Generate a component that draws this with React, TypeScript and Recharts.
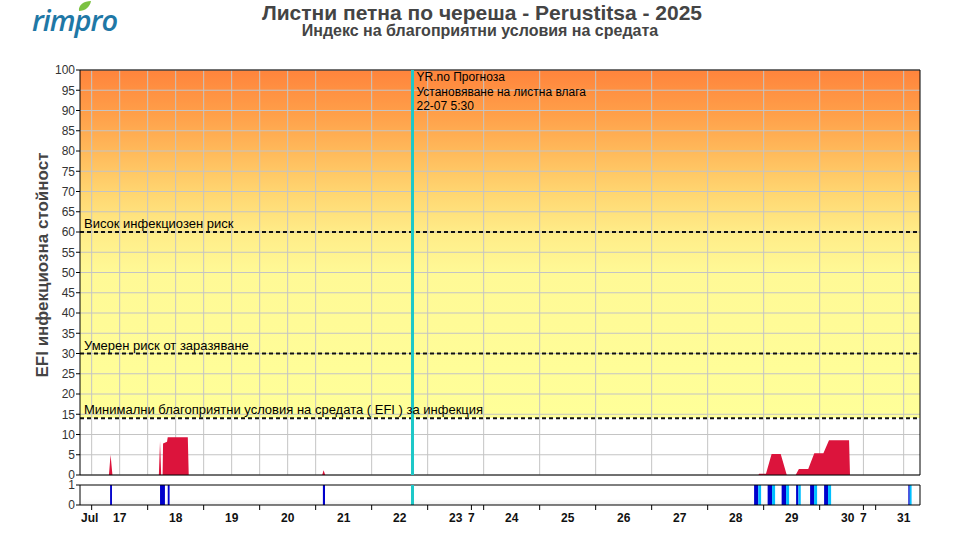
import React from 'react';
import {
  ComposedChart,
  Area,
  XAxis,
  YAxis,
  CartesianGrid,
  ReferenceLine,
} from 'recharts';

// time axis is in hours counted from 16 Jul 00:00
const X_DOMAIN: [number, number] = [7, 367];
const FORECAST_HOUR = 149.5; // 22-07 5:30

// EFI curve (hour, value)
const efiHours = [
  7, 19.4, 20.1, 20.9,
  40.8, 41.3, 41.8, 42.4, 42.6, 44.3, 44.6, 53.2, 53.6,
  110.8, 111.4, 112.1,
  297.8, 298.0, 301.0, 303.4, 307.3, 309.9,
  313.7, 315.1, 319.1, 321.7, 325.6, 328.0, 336.6, 337.0,
  367,
];
const efiValues = [
  0, 0, 5, 0,
  0, 8.4, 0, 0, 7.8, 8.2, 9.3, 9.3, 0,
  0, 1.2, 0,
  0, 0.3, 0.3, 5.2, 5.2, 0,
  0, 1.5, 1.5, 5.4, 5.4, 8.6, 8.6, 0,
  0,
];

// leaf wetness periods [start, end] in hours
const wetMeasured: [number, number][] = [
  [19.9, 20.7], [41.3, 43.4], [44.6, 45.4], [111.1, 112.0],
  [295.9, 297.7], [301.7, 303.6], [307.7, 309.6], [313.9, 314.9],
  [319.9, 321.6], [325.9, 327.6], [362.0, 362.6],
];
const wetForecast: [number, number][] = [
  [297.7, 298.9], [303.6, 304.9], [309.6, 310.9], [314.9, 315.9],
  [321.6, 322.9], [327.6, 328.9], [362.6, 363.4],
];

const yTicks = [0, 5, 10, 15, 20, 25, 30, 35, 40, 45, 50, 55, 60, 65, 70, 75, 80, 85, 90, 95, 100];

// risk thresholds
const thresholds = [
  { value: 60, label: 'Висок инфекциозен риск' },
  { value: 30, label: 'Умерен риск от заразяване' },
  { value: 14, label: 'Минимални благоприятни условия на средата ( EFI ) за инфекция' },
];

const dayHours = [24, 48, 72, 96, 120, 144, 168, 192, 216, 240, 264, 288, 312, 336, 360];
const dayLabels = ['17', '18', '19', '20', '21', '22', '23', '24', '25', '26', '27', '28', '29', '30', '31'];
const noonHours = [12, 36, 60, 84, 108, 132, 156, 180, 204, 228, 252, 276, 300, 324, 348];
const weekHours = [174.75, 342.75];
const weekLabels = ['7', '7'];

const FONT = '"Liberation Sans", Arial, sans-serif';

const efiData = efiHours.map((t, i) => ({ t, efi: efiValues[i] }));

const inside = (list: [number, number][], t: number) =>
  list.some(([a, b]) => t >= a && t < b) ? 1 : 0;

const wetData = Array.from(
  new Set([X_DOMAIN[0], X_DOMAIN[1], ...wetMeasured.flat(), ...wetForecast.flat()])
)
  .sort((a, b) => a - b)
  .map((t) => ({ t, measured: inside(wetMeasured, t), forecast: inside(wetForecast, t) }));

const gridX = [...dayHours, ...noonHours, ...weekHours].sort((a, b) => a - b);
const axisTicks = [X_DOMAIN[0], ...gridX];

const ForecastLabel = (props: any) => {
  const { x, y } = props.viewBox;
  return (
    <text x={x + 4} y={y + 11} fontSize={12} fontFamily={FONT} fill="#000">
      <tspan x={x + 4} dy={0}>YR.no Прогноза</tspan>
      <tspan x={x + 4} dy={14.5}>Установяване на листна влага</tspan>
      <tspan x={x + 4} dy={14.5}>22-07 5:30</tspan>
    </text>
  );
};

const YTitle = () => (
  <text
    x={48}
    y={265}
    transform="rotate(-90, 48, 265)"
    textAnchor="middle"
    fontSize={17}
    fontWeight="bold"
    fill="#444"
    fontFamily={FONT}
  >
    EFI инфекциозна стойност
  </text>
);

const TimeTick = (props: any) => {
  const { x, y, payload } = props;
  const v = payload.value;
  if (v === X_DOMAIN[0]) {
    return (
      <text x={x + 1} y={y + 17} fontSize={12} fontWeight="bold" fontFamily={FONT} fill="#111">
        Jul
      </text>
    );
  }
  const dayIdx = dayHours.indexOf(v);
  if (dayIdx >= 0) {
    return (
      <text x={x} y={y + 17} textAnchor="middle" fontSize={12} fontWeight="bold" fontFamily={FONT} fill="#111">
        {dayLabels[dayIdx]}
      </text>
    );
  }
  const weekIdx = weekHours.indexOf(v);
  return (
    <g>
      <line x1={x} x2={x} y1={y} y2={y + 5} stroke="#000" />
      {weekIdx >= 0 && (
        <text x={x} y={y + 17} textAnchor="middle" fontSize={12} fontWeight="bold" fontFamily={FONT} fill="#111">
          {weekLabels[weekIdx]}
        </text>
      )}
    </g>
  );
};

function Logo() {
  return (
    <div style={{ position: 'absolute', left: 32, top: 0, width: 100, height: 40 }}>
      <svg width={100} height={40} style={{ position: 'absolute', left: 0, top: 0 }}>
        <path d="M47 11 C 46 5, 52 1, 59 1 C 58 7, 53 11, 47 11 Z" fill="#7cc242" />
      </svg>
      <div
        style={{
          position: 'absolute',
          left: 0,
          top: 4,
          fontFamily: '"Open Sans", sans-serif',
          fontWeight: 600,
          fontStyle: 'italic',
          fontSize: 29,
          letterSpacing: -1,
          color: '#1f78a6',
          lineHeight: '32px',
        }}
      >
        rimpro
      </div>
    </div>
  );
}

export default function App() {
  return (
    <div style={{ position: 'absolute', left: 0, top: 0, width: 960, height: 535, background: '#fff', fontFamily: FONT }}>
      <Logo />
      <div
        style={{
          position: 'absolute',
          left: 0,
          width: 964,
          top: 3,
          textAlign: 'center',
          fontWeight: 'bold',
          color: '#444',
          fontSize: 21,
          lineHeight: '20px',
        }}
      >
        Листни петна по череша - Perustitsa - 2025
      </div>
      <div
        style={{
          position: 'absolute',
          left: 0,
          width: 960,
          top: 23,
          textAlign: 'center',
          fontWeight: 'bold',
          color: '#444',
          fontSize: 16,
          lineHeight: '16px',
        }}
      >
        Индекс на благоприятни условия на средата
      </div>

      {/* EFI chart */}
      <div style={{ position: 'absolute', left: 0, top: 0 }}>
        <ComposedChart width={960} height={490} data={efiData} margin={{ top: 70, right: 40, bottom: 15, left: 0 }}>
          <defs>
            <linearGradient id="efiBg" x1="0" y1="0" x2="0" y2="1">
              <stop offset="0" stopColor="#ff843c" />
              <stop offset="0.1" stopColor="#ff9d48" />
              <stop offset="0.2" stopColor="#ffb95a" />
              <stop offset="0.3" stopColor="#ffd570" />
              <stop offset="0.4" stopColor="#ffec88" />
              <stop offset="0.5" stopColor="#fff996" />
              <stop offset="0.86" stopColor="#ffff99" />
              <stop offset="0.86" stopColor="#ffffff" />
              <stop offset="1" stopColor="#ffffff" />
            </linearGradient>
          </defs>
          <CartesianGrid
            stroke="#c4c4c4"
            fill="url(#efiBg)"
            fillOpacity={1}
            verticalValues={gridX}
            horizontalValues={yTicks}
          />
          <XAxis dataKey="t" type="number" domain={X_DOMAIN} allowDataOverflow ticks={gridX} hide />
          <YAxis
            type="number"
            domain={[0, 100]}
            ticks={yTicks}
            interval={0}
            width={80}
            tickSize={4}
            tickMargin={1}
            tick={{ fontSize: 12, fill: '#333', fontFamily: FONT }}
            axisLine={{ stroke: '#000' }}
            tickLine={{ stroke: '#000' }}
            label={<YTitle />}
          />
          <Area
            type="linear"
            dataKey="efi"
            stroke="none"
            fill="#dc143c"
            fillOpacity={1}
            isAnimationActive={false}
          />
          {thresholds.map((th) => (
            <ReferenceLine
              key={th.value}
              y={th.value}
              stroke="#111"
              strokeWidth={2}
              strokeDasharray="4 3"
              label={{
                value: th.label,
                position: 'insideBottomLeft',
                offset: 4,
                style: { fontSize: 13, fill: '#000', fontFamily: FONT },
              }}
            />
          ))}
          <ReferenceLine y={0} stroke="#000" />
          <ReferenceLine y={100} stroke="#000" />
          <ReferenceLine x={X_DOMAIN[1]} stroke="#000" />
          <ReferenceLine x={FORECAST_HOUR} stroke="#1ec8c8" strokeWidth={3} label={<ForecastLabel />} />
        </ComposedChart>
      </div>

      {/* leaf wetness strip */}
      <div style={{ position: 'absolute', left: 0, top: 470 }}>
        <ComposedChart width={960} height={65} data={wetData} margin={{ top: 15, right: 40, bottom: 0, left: 0 }}>
          <defs>
            <linearGradient id="wetBg" x1="0" y1="0" x2="0" y2="1">
              <stop offset="0" stopColor="#ffffff" />
              <stop offset="0.7" stopColor="#ffffff" />
              <stop offset="1" stopColor="#f2f2f2" />
            </linearGradient>
          </defs>
          <CartesianGrid horizontal={false} vertical={false} fill="url(#wetBg)" fillOpacity={1} />
          <XAxis
            dataKey="t"
            type="number"
            domain={X_DOMAIN}
            allowDataOverflow
            ticks={axisTicks}
            interval={0}
            height={30}
            tickSize={0}
            tickMargin={0}
            tickLine={false}
            axisLine={{ stroke: '#000' }}
            tick={<TimeTick />}
          />
          <YAxis
            type="number"
            domain={[0, 1]}
            ticks={[0, 1]}
            interval={0}
            width={80}
            tickSize={4}
            tickMargin={1}
            tick={{ fontSize: 12, fill: '#333', fontFamily: FONT }}
            axisLine={{ stroke: '#000' }}
            tickLine={{ stroke: '#000' }}
          />
          <Area type="stepAfter" dataKey="measured" stroke="none" fill="#0000cc" fillOpacity={1} isAnimationActive={false} />
          <Area type="stepAfter" dataKey="forecast" stroke="none" fill="#00bfff" fillOpacity={1} isAnimationActive={false} />
          <ReferenceLine y={1} stroke="#000" />
          <ReferenceLine x={X_DOMAIN[1]} stroke="#000" />
          <ReferenceLine x={FORECAST_HOUR} stroke="#1ec8c8" strokeWidth={3} />
        </ComposedChart>
      </div>
    </div>
  );
}
